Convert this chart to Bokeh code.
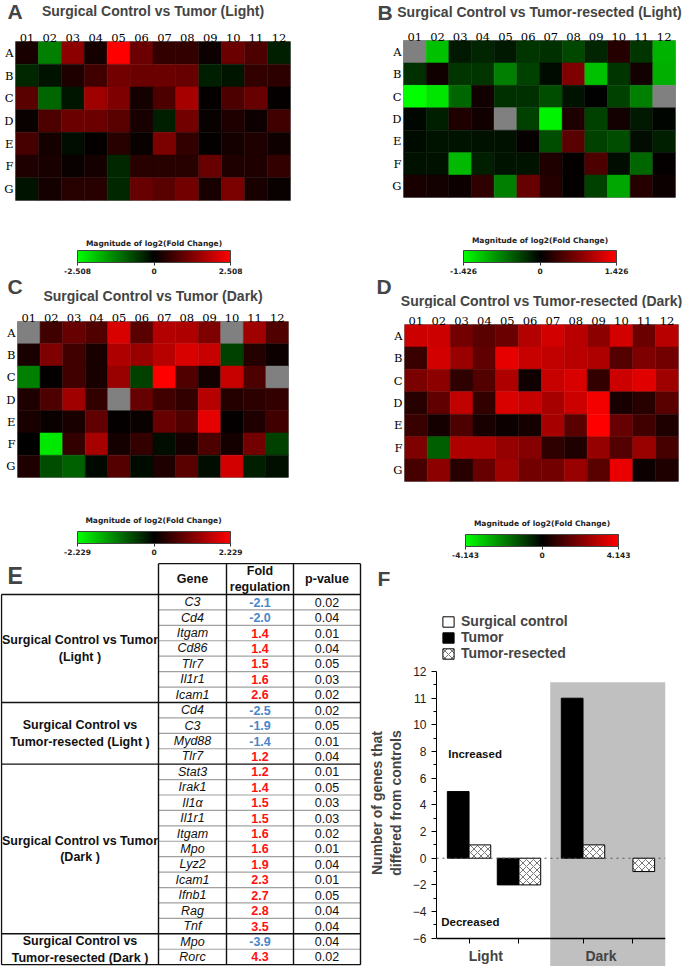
import numpy as np
from bokeh.plotting import figure
from bokeh.models import (ColumnDataSource, FactorRange, LinearColorMapper, ColorBar, FixedTicker,
                          CustomJSTickFormatter, Label, Range1d, Legend, LegendItem, BoxAnnotation,
                          Span, CustomJSTransform)
from bokeh.transform import transform, dodge
from bokeh.layouts import row, column
from bokeh.embed import file_html
from bokeh.resources import INLINE
from bokeh.core.properties import value

nan = float("nan")

cols = ["01", "02", "03", "04", "05", "06", "07", "08", "09", "10", "11", "12"]
rows = ["A", "B", "C", "D", "E", "F", "G"]

light_tumor_max = 2.508
light_tumor = [
    [0.25, -1.25, 1.38, 0.20, 2.508, 1.05, 0.50, 0.50, 0.13, 1.05, 0.75, -0.30],
    [-0.38, -0.18, 0.30, 0.63, 1.13, 1.05, 1.05, 1.00, -0.30, -0.20, 0.50, 0.45],
    [0.88, -1.00, -0.20, 1.55, 1.25, 0.20, 0.75, 1.63, 0.05, 0.75, 1.00, 0.05],
    [0.08, 0.75, 1.05, 1.05, 0.88, 0.25, -0.30, 1.13, 0.08, 0.30, 0.13, 0.63],
    [0.70, 0.20, -0.13, 0.05, 0.38, 0.08, 1.20, 0.50, 0.05, 0.20, 0.30, 0.15],
    [0.30, 0.25, 0.08, 0.20, -0.38, 0.38, 0.38, 0.38, 1.00, 0.30, 0.30, 0.50],
    [-0.18, 0.20, 0.38, 0.38, -0.38, 1.00, 0.88, 1.13, 0.25, 1.20, 0.25, 0.08],
]

light_resected_max = 1.426
light_resected = [
    [nan, -1.07, -0.14, -0.21, -0.14, -0.29, -0.26, -0.40, -0.21, 0.21, -0.29, -1.00],
    [-0.26, 0.10, -0.29, -0.29, -0.71, -0.36, -0.06, 0.71, -1.07, -0.29, 0.11, -0.97],
    [-1.426, -1.28, -0.57, 0.10, -0.26, -0.26, -0.43, -0.11, 0.00, -0.36, -0.71, nan],
    [-0.04, -0.17, 0.17, 0.09, nan, -0.36, -1.35, 0.17, -0.36, 0.11, -0.14, -0.03],
    [-0.06, -0.11, -0.11, -0.10, -0.09, 0.04, -0.43, 0.50, -0.36, -0.43, -0.07, -0.17],
    [-0.09, -0.10, -1.03, -0.17, -0.11, -0.11, 0.17, 0.03, 0.43, -0.07, -0.57, 0.03],
    [0.14, 0.11, 0.07, 0.26, -0.71, 0.57, 0.21, 0.03, -0.36, -0.93, 0.21, 0.07],
]

dark_tumor_max = 2.229
dark_tumor = [
    [nan, 0.56, 0.89, 0.71, 1.89, 0.78, 1.56, 1.52, 1.11, nan, 1.38, 0.71],
    [0.22, 1.11, 0.56, 0.22, 1.52, 1.34, 1.60, 1.89, 1.74, -0.56, 0.33, 0.11],
    [-1.11, 0.04, 0.56, 0.22, 1.34, -0.56, 2.229, 0.71, 0.16, 1.74, 0.67, nan],
    [0.27, 0.67, 1.40, 0.45, nan, 0.89, 0.56, 0.45, 1.60, 0.33, 0.40, 0.45],
    [0.22, 0.07, 0.22, 0.85, 0.04, 0.07, 0.89, 0.71, 2.01, 0.04, 0.27, 0.56],
    [0.00, -2.01, 0.45, 1.45, 0.18, 0.45, -0.11, 0.18, 0.67, 0.18, 1.00, -0.56],
    [0.27, -0.67, -0.85, -0.07, 0.74, -0.09, 0.27, 0.78, -0.11, 1.83, -0.27, -0.13],
]

dark_resected_max = 4.143
dark_resected = [
    [3.31, 3.31, 1.86, 1.45, 1.74, 2.90, 3.40, 2.98, 2.28, 3.40, 1.74, 2.98],
    [0.91, 3.40, 2.49, 1.57, 3.73, 3.23, 3.11, 2.98, 2.82, 1.33, 2.07, 1.86],
    [1.99, 2.28, 0.75, 1.33, 2.82, 0.29, 3.23, 3.52, 0.83, 3.31, 3.65, 2.57],
    [0.62, 1.57, 3.11, 0.83, 3.52, 3.23, 2.69, 3.31, 3.94, 0.41, 0.62, 1.45],
    [0.91, 0.33, 1.24, 0.41, 0.21, 0.33, 2.69, 1.45, 4.143, 1.66, 1.04, 0.50],
    [2.07, -1.53, 2.82, 2.82, 2.40, 2.15, 0.75, 0.50, 2.40, 1.33, 2.49, 1.16],
    [1.16, 2.28, 0.62, 1.66, 2.57, 1.86, 1.86, 2.49, 1.45, 3.81, 0.21, 0.50],
]

# ---------------- table data ----------------
group_labels = ["Surgical Control vs Tumor\n(Light )",
                "Surgical Control vs\nTumor-resected (Light )",
                "Surgical Control vs Tumor\n(Dark )",
                "Surgical Control vs\nTumor-resected (Dark )"]
group_sizes = [7, 4, 11, 2]
genes = ["C3", "Cd4", "Itgam", "Cd86", "Tlr7", "Il1r1", "Icam1",
         "Cd4", "C3", "Myd88", "Tlr7",
         "Stat3", "Irak1", "Il1\u03b1", "Il1r1", "Itgam", "Mpo", "Lyz2", "Icam1", "Ifnb1", "Rag", "Tnf",
         "Mpo", "Rorc"]
fold_regulation = [-2.1, -2.0, 1.4, 1.4, 1.5, 1.6, 2.6,
                   -2.5, -1.9, -1.4, 1.2,
                   1.2, 1.4, 1.5, 1.5, 1.6, 1.6, 1.9, 2.3, 2.7, 2.8, 3.5,
                   -3.9, 4.3]
p_values = [0.02, 0.04, 0.01, 0.04, 0.05, 0.03, 0.02,
            0.02, 0.05, 0.01, 0.04,
            0.01, 0.05, 0.03, 0.03, 0.02, 0.01, 0.04, 0.01, 0.05, 0.04, 0.04,
            0.04, 0.02]

# ---------------- bar chart data ----------------
clusters = [("Light", "Increased"), ("Light", "Decreased"), ("Dark", "Increased"), ("Dark", "Decreased")]
surgical_control = [0, 0, 0, 0]
tumor = [5, -2, 11, 0]
tumor_resected = [1, -2, 1, -1]

# ---------------- styles ----------------
SANS = "Liberation Sans"
SERIF = "DejaVu Serif"
PALETTE = []
for i in range(256):
    t = i / 255 * 2 - 1
    if t < 0:
        PALETTE.append("#%02x%02x%02x" % (0, round(-t * 255), 0))
    else:
        PALETTE.append("#%02x%02x%02x" % (round(t * 255), 0, 0))


def blank(width, height):
    p = figure(width=width, height=height, x_range=Range1d(0, width), y_range=Range1d(height, 0),
               output_backend="svg", toolbar_location=None, min_border=0, frame_align=False)
    p.axis.visible = False
    p.grid.visible = False
    p.outline_line_color = None
    return p


def heat_panel(vals, vmax, title, letter, width, hdr_h, heat_h, cb_h, frame_lr, heat_tb,
               letter_xy, title_xy, cap_xy, cb_xy):
    # header: panel letter + title
    hdr = blank(width, hdr_h)
    hdr.add_layout(Label(x=letter_xy[0], y=letter_xy[1], text=letter, text_font=SANS, text_font_size="21px",
                         text_font_style="bold", text_baseline="middle", text_align="left"))
    hdr.add_layout(Label(x=title_xy[0], y=title_xy[1], text=title, text_font=SANS, text_font_size="14px",
                         text_font_style="bold", text_baseline="middle", text_align="center"))
    # heatmap
    xs, ys, vs = [], [], []
    for r, rv in zip(rows, vals):
        for c, v in zip(cols, rv):
            xs.append(c)
            ys.append(r)
            vs.append(v)
    src = ColumnDataSource(dict(col=xs, row=ys, v=np.array(vs, dtype=float)))
    mapper = LinearColorMapper(palette=PALETTE, low=-vmax, high=vmax, nan_color="#808080")
    p = figure(width=width, height=heat_h, x_range=FactorRange(*cols), y_range=FactorRange(*rows[::-1]),
               x_axis_location="above", output_backend="svg", toolbar_location=None, frame_align=False,
               min_border_left=frame_lr[0], min_border_right=frame_lr[1],
               min_border_top=heat_tb[0], min_border_bottom=heat_tb[1])
    p.rect(x="col", y="row", width=1, height=1, source=src,
           fill_color=transform("v", mapper), line_color=transform("v", mapper), line_width=0.5)
    for ax in (p.xaxis[0], p.yaxis[0]):
        ax.axis_line_color = None
        ax.major_tick_line_color = None
        ax.minor_tick_line_color = None
        ax.major_tick_out = 0
        ax.major_tick_in = 0
        ax.major_label_text_font = SERIF
        ax.major_label_text_font_size = "11.5px"
        ax.major_label_text_color = "#000000"
    p.xaxis[0].major_label_standoff = 0
    p.yaxis[0].major_label_standoff = 2
    p.grid.visible = False
    p.outline_line_color = "#8c8c8c"
    p.outline_line_width = 1
    # colour scale
    cbf = blank(width, cb_h)
    cb = ColorBar(color_mapper=mapper, orientation="horizontal", width=153, height=12,
                  ticker=FixedTicker(ticks=[-vmax, 0, vmax]),
                  formatter=CustomJSTickFormatter(code="return tick == 0 ? '0' : tick.toFixed(3);"),
                  major_label_text_font="DejaVu Sans", major_label_text_font_size="7.5px",
                  major_label_text_font_style="bold", major_label_text_color="#222222", label_standoff=2,
                  major_tick_out=3, major_tick_in=0, major_tick_line_color="#333333",
                  bar_line_color="#444444", padding=0, margin=0, location=cb_xy,
                  background_fill_color=None, border_line_color=None)
    cbf.add_layout(cb)
    cbf.add_layout(Label(x=cap_xy[0], y=cap_xy[1], text="Magnitude of log2(Fold Change)",
                         text_font="DejaVu Sans", text_font_size="7.5px", text_font_style="bold",
                         text_color="#222222", text_align="center", text_baseline="middle"))
    return column(hdr, p, cbf)


panelA = heat_panel(light_tumor, light_tumor_max, "Surgical Control vs Tumor (Light)", "A",
                    340, 26, 176, 74, (15, 50), (15, 2), (7, 10.5), (152.5, 10.5), (153.5, 41), (77, 0))
panelB = heat_panel(light_resected, light_resected_max, "Surgical Control vs Tumor-resected (Light)", "B",
                    345, 26, 173, 77, (63, 10), (14, 2), (37, 11.5), (199, 11.5), (199.5, 41), (123, 0))
panelC = heat_panel(dark_tumor, dark_tumor_max, "Surgical Control vs Tumor (Dark)", "C",
                    340, 29, 174, 81, (17, 52), (16, 2), (7, 10), (152.5, 19.5), (153, 41), (77, 3))
panelD = heat_panel(dark_resected, dark_resected_max, "Surgical Control vs Tumor-resected (Dark)", "D",
                    345, 32, 175, 77, (64, 7), (16, 2), (36, 10), (201, 24.5), (201.5, 40), (125, 0))

# ---------------- table E ----------------
pE = figure(width=365, height=406, x_range=Range1d(0, 365), y_range=Range1d(24.12, -2.205),
            output_backend="svg", toolbar_location=None, min_border=0, frame_align=False)
pE.axis.visible = False
pE.grid.visible = False
pE.outline_line_color = None
col_x = [1, 158, 226, 293, 360]
gene_x = (col_x[1] + col_x[2]) / 2
fold_x = (col_x[2] + col_x[3]) / 2
p_x = (col_x[3] + col_x[4]) / 2
grp_x = (col_x[0] + col_x[1]) / 2
n_rows = len(genes)
row_y = [i + 0.5 for i in range(n_rows)]
ends = [int(v) for v in np.cumsum(group_sizes)]
starts = [0] + ends[:-1]

hx0, hy0, hx1, hy1 = [], [], [], []
for i in range(1, n_rows):
    if i not in ends:
        hx0.append(col_x[1]); hx1.append(col_x[4]); hy0.append(i); hy1.append(i)
pE.segment(x0=hx0, y0=hy0, x1=hx1, y1=hy1, line_color="#a0a0a0", line_width=1.2)
bx0, by0, bx1, by1 = [col_x[1]], [-2], [col_x[4]], [-2]
for yb in [0] + ends:
    bx0.append(col_x[0]); bx1.append(col_x[4]); by0.append(yb); by1.append(yb)
bx0.append(col_x[0]); bx1.append(col_x[0]); by0.append(0); by1.append(n_rows)
for xv in col_x[1:]:
    bx0.append(xv); bx1.append(xv); by0.append(-2); by1.append(n_rows)
pE.segment(x0=bx0, y0=by0, x1=bx1, y1=by1, line_color="#111111", line_width=1.4)

pE.text(x=[gene_x, fold_x, p_x], y=[-1, -1, -1], text=["Gene", "Fold\nregulation", "p-value"],
        text_align="center", text_baseline="middle", text_font=value(SANS), text_font_size="12.5px",
        text_font_style="bold", text_line_height=1.15, text_color="#111111")
pE.text(x=[gene_x] * n_rows, y=row_y, text=genes, text_align="center", text_baseline="middle",
        text_font=value(SANS), text_font_size="12.5px", text_font_style="italic", text_color="#111111")
fold_txt = ["%.1f" % f for f in fold_regulation]
fold_col = ["#ff1010" if f > 0 else "#4a86c8" for f in fold_regulation]
pE.text(x=[fold_x] * n_rows, y=row_y, text=fold_txt, text_color=fold_col, text_align="center",
        text_baseline="middle", text_font=value(SANS), text_font_size="12.5px", text_font_style="bold")
pE.text(x=[p_x] * n_rows, y=row_y, text=["%.2f" % v for v in p_values], text_align="center",
        text_baseline="middle", text_font=value(SANS), text_font_size="12.5px", text_color="#111111")
grp_y = [(s + e) / 2 for s, e in zip(starts, ends)]
pE.text(x=[grp_x] * len(group_labels), y=grp_y, text=group_labels, text_align="center",
        text_baseline="middle", text_font=value(SANS), text_font_size="12.5px", text_font_style="bold",
        text_line_height=1.2, text_color="#111111")
pE.add_layout(Label(x=7, y=-1.17, text="E", text_font=SANS, text_font_size="23px", text_font_style="bold",
                    text_baseline="middle"))

# ---------------- bar chart F ----------------
hF = blank(320, 40)
hF.add_layout(Label(x=12, y=17.5, text="F", text_font=SANS, text_font_size="21px", text_font_style="bold",
                    text_baseline="middle"))

xr = FactorRange(*clusters, factor_padding=0.15, group_padding=0.475, range_padding=0.25,
                 range_padding_units="absolute")
pF = figure(width=320, height=366, x_range=xr, y_range=Range1d(-8.12, 18.73),
            output_backend="svg", toolbar_location=None, frame_align=False,
            min_border_left=68, min_border_right=20, min_border_top=8, min_border_bottom=0)
pF.grid.visible = False
pF.outline_line_color = None
pF.add_layout(BoxAnnotation(left=2.37, top=13.2, fill_color="#c0c0c0", fill_alpha=1.0,
                            line_color=None, level="underlay"))
# the original axis is stretched above 10 (ticks 10, 11, 12 evenly spaced): same mapping here
brk = CustomJSTransform(v_func="""
const out = new Array(xs.length);
for (let i = 0; i < xs.length; i++) { const v = xs[i]; out[i] = v <= 10 ? v : 10 + 2 * (v - 10); }
return out;
""")
srcF = ColumnDataSource(dict(cluster=clusters, sc=surgical_control, t=tumor, tr=tumor_resected,
                             t_la=[1 if v != 0 else 0 for v in tumor],
                             tr_la=[1 if v != 0 else 0 for v in tumor_resected]))
r_sc = pF.vbar(x="cluster", top=transform("sc", brk), bottom=0, width=0, source=srcF,
               fill_color="white", line_color="black", line_width=1)
r_t = pF.vbar(x=dodge("cluster", -0.25, range=xr), top=transform("t", brk), bottom=0, width=0.5, source=srcF,
              fill_color="black", line_color="black", line_alpha="t_la", line_width=1)
r_tr = pF.vbar(x=dodge("cluster", 0.25, range=xr), top=transform("tr", brk), bottom=0, width=0.5, source=srcF,
               fill_color="white", line_color="black", line_alpha="tr_la", line_width=1,
               hatch_pattern="diagonal_cross", hatch_color="#555555", hatch_scale=7, hatch_weight=0.8)
pF.add_layout(Span(location=0, dimension="width", line_color="#555555", line_dash="dotted", line_width=1))

yax = pF.yaxis[0]
yax.bounds = (-6, 14)
yax.ticker = FixedTicker(ticks=[-6, -4, -2, 0, 2, 4, 6, 8, 10, 12, 14],
                         minor_ticks=[-5, -3, -1, 1, 3, 5, 7, 9, 11, 13])
yax.major_label_overrides = {12: "11", 14: "12"}
yax.major_tick_out = 5
yax.major_tick_in = 0
yax.minor_tick_out = 3
yax.minor_tick_in = 0
yax.axis_line_color = "black"
yax.major_label_text_font = SANS
yax.major_label_text_font_size = "12px"
yax.major_label_text_color = "#222222"
# trailing no-break spaces keep the label centred on the -6..12 axis span rather than the taller frame
pad = "\u00a0" * 8
yax.axis_label = "Number of genes that" + pad + "\ndiffered from controls" + pad
yax.axis_label_text_font = SANS
yax.axis_label_text_font_size = "14px"
yax.axis_label_text_font_style = "bold"
yax.axis_label_standoff = 6

xax = pF.xaxis[0]
xax.fixed_location = -6
xax.major_tick_out = 5
xax.major_tick_in = 0
xax.axis_line_width = 1.5
xax.major_label_text_color = None
xax.group_text_color = None
xax.separator_line_color = None

for txt, xv in [("Light", 0.885), ("Dark", 3.54)]:
    pF.add_layout(Label(x=xv, y=-7.3, text=txt, text_align="center", text_baseline="middle",
                        text_font=SANS, text_font_size="14px", text_font_style="bold"))
pF.add_layout(Label(x=0.02, y=7.85, text="Increased", text_align="left", text_baseline="middle",
                    text_font=SANS, text_font_size="11.5px", text_font_style="bold", text_color="#111111"))
pF.add_layout(Label(x=-0.14, y=-4.8, text="Decreased", text_align="left", text_baseline="middle",
                    text_font=SANS, text_font_size="11.5px", text_font_style="bold", text_color="#111111"))

legend = Legend(items=[LegendItem(label="Surgical control", renderers=[r_sc]),
                       LegendItem(label="Tumor", renderers=[r_t]),
                       LegendItem(label="Tumor-resected", renderers=[r_tr])],
                location="top_left", orientation="vertical", glyph_width=14, glyph_height=13,
                label_height=16, spacing=0, padding=0, margin=5, label_standoff=6,
                border_line_color=None, background_fill_alpha=0,
                label_text_font=SANS, label_text_font_size="14px", label_text_font_style="bold")
pF.add_layout(legend)

layout = column(row(panelA, panelB), row(panelC, panelD), row(pE, column(hF, pF)))
open("out.html", "w").write(file_html(layout, INLINE))
